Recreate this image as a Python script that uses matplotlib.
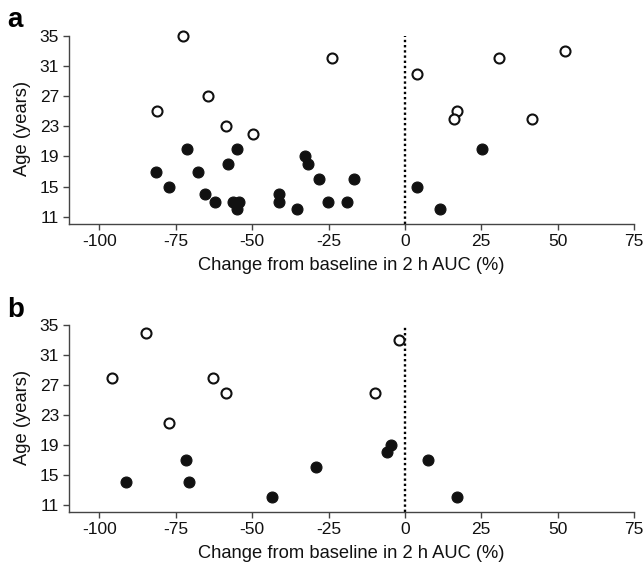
import matplotlib
matplotlib.use("Agg")
import matplotlib.pyplot as plt

# --- Data ---
# panel a
a_open_x = [-72.6, -81.0, -64.6, -58.5, -49.8, -24.0, 3.8, 30.8, 52.3, 17.2, 16.0, 41.7]
a_open_y = [35, 25, 27, 23, 22, 32, 30, 32, 33, 25, 24, 24]
a_fill_x = [-81.5, -77.1, -71.2, -67.7, -65.4, -62.2, -57.9, -55.0, -56.2, -54.3,
            -55.0, -41.3, -41.3, -35.2, -32.7, -31.6, -28.0, -25.3, -19.1, -16.7,
            4.0, 11.6, 25.2]
a_fill_y = [17, 15, 20, 17, 14, 13, 18, 20, 13, 13,
            12, 14, 13, 12, 19, 18, 16, 13, 13, 16,
            15, 12, 20]

# panel b
b_open_x = [-95.8, -84.8, -77.2, -62.9, -58.5, -2.0, -9.7]
b_open_y = [28, 34, 22, 28, 26, 33, 26]
b_fill_x = [-91.3, -71.8, -70.8, -43.6, -29.1, -4.7, -6.0, 7.4, 17.0]
b_fill_y = [14, 17, 14, 12, 16, 19, 18, 17, 12]

x_ticks = [-100, -75, -50, -25, 0, 25, 50, 75]
y_ticks = [11, 15, 19, 23, 27, 31, 35]
xlabel = "Change from baseline in 2 h AUC (%)"
ylabel = "Age (years)"

plt.rcParams['font.family'] = ['Liberation Sans', 'DejaVu Sans']
plt.rcParams['axes.unicode_minus'] = False

fig = plt.figure(figsize=(6.44, 5.69), dpi=100)

spine_col = '#444444'


def style_axis(ax):
    ax.set_xlim(-110, 75)
    ax.set_ylim(10, 35.3)
    ax.set_xticks(x_ticks)
    ax.set_yticks(y_ticks)
    ax.spines['top'].set_visible(False)
    ax.spines['right'].set_visible(False)
    for s in ['left', 'bottom']:
        ax.spines[s].set_color(spine_col)
        ax.spines[s].set_linewidth(1.0)
    ax.spines['left'].set_bounds(10, 35)
    ax.tick_params(direction='out', length=4, width=1.0, color=spine_col,
                   labelsize=12.5, pad=3, labelcolor='#111111')
    ax.axvline(0, ymin=0, ymax=25 / 25.3, color='black', linestyle=(0, (1, 1.2)),
               linewidth=1.7, zorder=1)
    ax.set_ylabel(ylabel, fontsize=13.2, labelpad=6, color='#111111')


ax_a = fig.add_axes([0.107, 0.6058, 0.8775, 0.3352])
ax_b = fig.add_axes([0.107, 0.0996, 0.8775, 0.3327])

for ax, ox, oy, fx, fy in [(ax_a, a_open_x, a_open_y, a_fill_x, a_fill_y),
                           (ax_b, b_open_x, b_open_y, b_fill_x, b_fill_y)]:
    style_axis(ax)
    ax.scatter(fx, fy, s=62, c='#111111', edgecolors='#111111', linewidths=0.8, zorder=3,
               clip_on=False)
    ax.scatter(ox, oy, s=52, facecolors='white', edgecolors='#111111', linewidths=1.5,
               zorder=3, clip_on=False)
    ax.set_xlabel(xlabel, fontsize=13.2, labelpad=6, color='#111111')

fig.text(0.012, 0.952, 'a', fontsize=20, fontweight='bold', ha='left', va='baseline')
fig.text(0.012, 0.443, 'b', fontsize=20, fontweight='bold', ha='left', va='baseline')

fig.savefig('out.png', dpi=100)
